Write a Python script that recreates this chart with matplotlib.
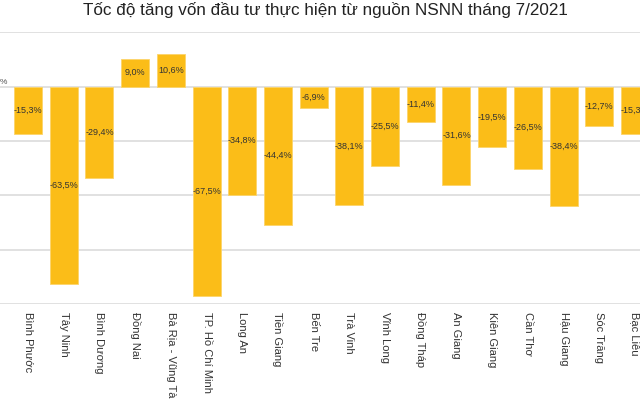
import matplotlib.pyplot as plt
import numpy as np

plt.rcParams['font.family'] = ['Liberation Sans', 'DejaVu Sans']

# Dữ liệu
provinces = ['Bình Phước', 'Tây Ninh', 'Bình Dương', 'Đồng Nai', 'Bà Rịa - Vũng Tàu',
             'TP. Hồ Chí Minh', 'Long An', 'Tiền Giang', 'Bến Tre', 'Trà Vinh',
             'Vĩnh Long', 'Đồng Tháp', 'An Giang', 'Kiên Giang', 'Cần Thơ',
             'Hậu Giang', 'Sóc Trăng', 'Bạc Liêu']
growth = [-15.3, -63.5, -29.4, 9.0, 10.6, -67.5, -34.8, -44.4, -6.9, -38.1,
          -25.5, -11.4, -31.6, -19.5, -26.5, -38.4, -12.7, -15.3]
title = 'Tốc độ tăng vốn đầu tư thực hiện từ nguồn NSNN tháng 7/2021'

fig = plt.figure(figsize=(6.4, 3.99), dpi=100)
ax = fig.add_axes([0.0, 0.238, 1.0, 0.681])

x = np.arange(len(provinces))
bars = ax.bar(x, growth, width=0.785, color='#fbbd18', edgecolor='#fcd46a',
              linewidth=0.6, zorder=3)

for xi, v in zip(x, growth):
    txt = ('%.1f%%' % v).replace('.', ',')
    ax.text(xi, v / 2, txt, ha='center', va='center', fontsize=6.5,
            color='#333333', zorder=4)

ax.set_xlim(-0.784, 17.14)
ax.set_ylim(-70, 17.5)
ax.set_yticks(np.arange(-70, 17.6, 17.5))
ax.yaxis.grid(True, color='#dcdcdc', linewidth=1.2, zorder=0)
ax.tick_params(axis='y', left=False, labelleft=False)
ax.tick_params(axis='x', bottom=False, pad=2)
ax.set_xticks(x)
ax.set_xticklabels(provinces, rotation=270, fontsize=8, color='#333333',
                   va='top', ha='center')
for s in ax.spines.values():
    s.set_visible(False)

fig.text(0.0, 1 - 83 / 399, '%', fontsize=6, color='#555555', va='center', ha='left')
fig.suptitle(title, x=0.508, y=0.995, va='top', fontsize=12.3, color='#222222')

plt.savefig('out.png', dpi=100)
